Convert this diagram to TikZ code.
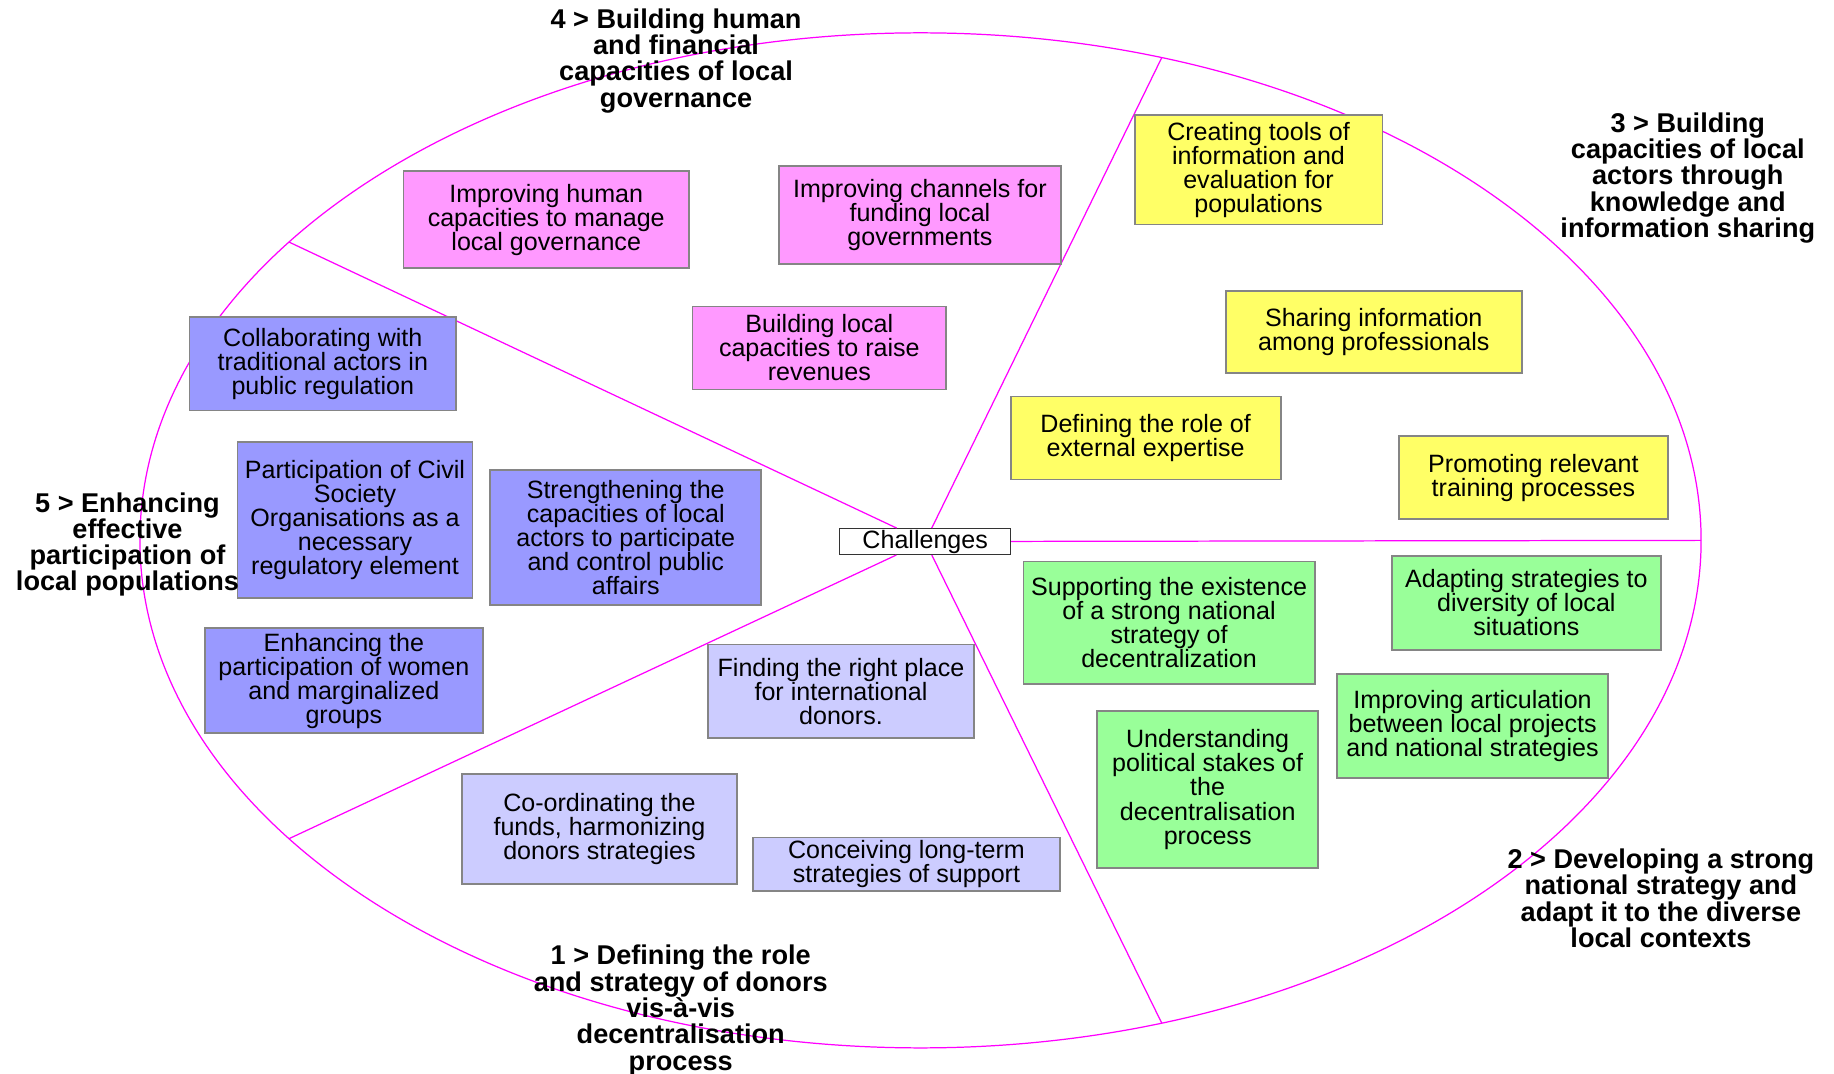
\documentclass[tikz,border=0pt]{standalone}
\usepackage{fontspec}
\setmainfont{Liberation Sans}

\definecolor{rimmagenta}{HTML}{FF00FF}
\definecolor{cardedge}{HTML}{858585}
\definecolor{pinkfill}{HTML}{FF99FF}
\definecolor{yellowfill}{HTML}{FFFF66}
\definecolor{greenfill}{HTML}{99FF99}
\definecolor{bluefill}{HTML}{9999FF}
\definecolor{lavenderfill}{HTML}{CCCCFF}

\newcommand{\cardfont}{\fontsize{12.2}{11.7}\selectfont}
\newcommand{\themefont}{\bfseries\fontsize{13.2}{12.8}\selectfont}

\begin{document}
\begin{tikzpicture}[x=0.02cm, y=-0.02cm,
  rim/.style={draw=rimmagenta, line width=0.6pt},
  card/.style={draw=cardedge, line width=0.9pt, inner sep=0pt, align=center, font=\cardfont},
  pinkcard/.style={card, fill=pinkfill},
  yellowcard/.style={card, fill=yellowfill},
  greencard/.style={card, fill=greenfill},
  bluecard/.style={card, fill=bluefill},
  lavendercard/.style={card, fill=lavenderfill},
  theme/.style={align=center, font=\themefont, inner sep=0pt}]
  \useasboundingbox (0,0) rectangle (1568,918);

  % Ellipse and the five sectors
  \coordinate (ctr) at (787,462);
  \draw[rim] (ctr) ellipse [x radius=13.35cm, y radius=8.68cm];
  \foreach \a [count=\i] in {0,72,144,216,288}
    \path (ctr) ++(\a:13.35cm and 8.68cm) coordinate (rim\i);

  \node[draw=black!80, line width=0.6pt, fill=white, font=\cardfont,
        minimum width=2.92cm, minimum height=0.44cm, inner sep=0pt] (chal) at (791,463) {Challenges};
  \foreach \i in {1,...,5}
    \draw[rim] (chal) -- (rim\i);

  % 4 > human and financial capacities
  \node[pinkcard, minimum width=4.88cm, minimum height=1.66cm] (humcap) at (467,188)
    {Improving human\\capacities to manage\\local governance};
  \node[pinkcard, minimum width=4.82cm, minimum height=1.68cm] (funding) at (786.5,184)
    {Improving channels for\\funding local\\governments};
  \node[pinkcard, minimum width=4.34cm, minimum height=1.42cm] (revenues) at (700.5,297.5)
    {Building local\\capacities to raise\\revenues};

  % 3 > knowledge and information sharing
  \node[yellowcard, minimum width=4.24cm, minimum height=1.88cm] (tools) at (1076,145)
    {Creating tools of\\information and\\evaluation for\\populations};
  \node[yellowcard, minimum width=5.06cm, minimum height=1.40cm] (sharing) at (1174.5,284)
    {Sharing information\\among professionals};
  \node[yellowcard, minimum width=4.62cm, minimum height=1.42cm] (expertise) at (979.5,374.5)
    {Defining the role of\\external expertise};
  \node[yellowcard, minimum width=4.60cm, minimum height=1.42cm] (training) at (1311,408.5)
    {Promoting relevant\\training processes};

  % 2 > national strategy
  \node[greencard, minimum width=4.98cm, minimum height=2.10cm] (natstrat) at (999.5,532.5)
    {Supporting the existence\\of a strong national\\strategy of\\decentralization};
  \node[greencard, minimum width=4.60cm, minimum height=1.62cm] (adapting) at (1305,515.5)
    {Adapting strategies to\\diversity of local\\situations};
  \node[greencard, minimum width=4.64cm, minimum height=1.78cm] (articulation) at (1259,620.5)
    {Improving articulation\\between local projects\\and national strategies};
  \node[greencard, minimum width=3.78cm, minimum height=2.68cm] (stakes) at (1032.5,675)
    {Understanding\\political stakes of\\the\\decentralisation\\process};

  % 5 > participation of local populations
  \node[bluecard, minimum width=4.56cm, minimum height=1.60cm] (traditional) at (276,311)
    {Collaborating with\\traditional actors in\\public regulation};
  \node[bluecard, minimum width=4.02cm, minimum height=2.66cm] (civil) at (303.5,444.5)
    {Participation of Civil\\Society\\Organisations as a\\necessary\\regulatory element};
  \node[bluecard, minimum width=4.64cm, minimum height=2.30cm] (control) at (535,459.5)
    {Strengthening the\\capacities of local\\actors to participate\\and control public\\affairs};
  \node[bluecard, minimum width=4.76cm, minimum height=1.80cm] (women) at (294,582)
    {Enhancing the\\participation of women\\and marginalized\\groups};

  % 1 > role of donors
  \node[lavendercard, minimum width=4.56cm, minimum height=1.60cm] (place) at (719,591)
    {Finding the right place\\for international\\donors.};
  \node[lavendercard, minimum width=4.70cm, minimum height=1.88cm] (coordfunds) at (512.5,709)
    {Co-ordinating the\\funds, harmonizing\\donors strategies};
  \node[lavendercard, minimum width=5.24cm, minimum height=0.92cm] (longterm) at (775,739)
    {Conceiving long-term\\strategies of support};

  % Sector titles
  \node[theme] (theme4) at (578,52) {4 > Building human\\and financial\\capacities of local\\governance};
  \node[theme] (theme3) at (1443,152) {3 > Building\\capacities of local\\actors through\\knowledge and\\information sharing};
  \node[theme] (theme5) at (109,465.5) {5 > Enhancing\\effective\\participation of\\local populations};
  \node[theme] (theme1) at (582,864) {1 > Defining the role\\and strategy of donors\\vis-à-vis\\decentralisation\\process};
  \node[theme] (theme2) at (1420,768) {2 > Developing a strong\\national strategy and\\adapt it to the diverse\\local contexts};
\end{tikzpicture}
\end{document}
